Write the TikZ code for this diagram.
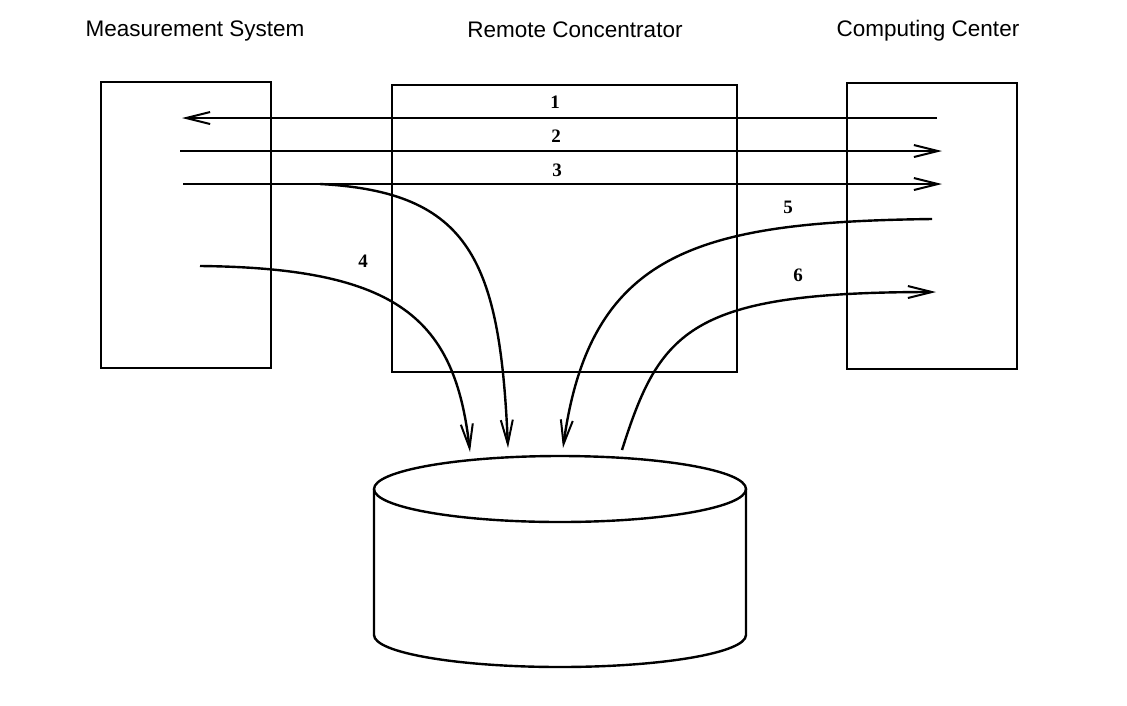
\documentclass[tikz,border=0pt]{standalone}
\usepackage{fontspec}
\setmainfont{Liberation Serif}
\newfontfamily\arialf{Liberation Sans}
\usetikzlibrary{arrows.meta}
\begin{document}
\begin{tikzpicture}[x=1pt,y=-1pt,line width=2.4pt,
  box/.style={draw},
  con/.style={-{Straight Barb[length=24pt,width=12pt,line width=2pt]}},
  num/.style={font=\bfseries\fontsize{19}{19}\selectfont,inner sep=0pt},
  ttl/.style={font=\arialf\fontsize{22.5}{22.5}\selectfont,inner sep=0pt,anchor=base}]
\useasboundingbox (0,0) rectangle (1127,705);
\fill[white] (0,0) rectangle (1127,705);
\draw[box] (101,82) rectangle (271,368);
\draw[box] (392,85) rectangle (737,372);
\draw[box] (847,83) rectangle (1017,369);
\node[ttl] (t1) at (195,36) {Measurement System};
\node[ttl] (t2) at (575,37) {Remote Concentrator};
\node[ttl] (t3) at (928,36) {Computing Center};
% cylinder
\draw (374,489) -- (374,635) arc[start angle=180,end angle=0,x radius=186,y radius=32] -- (746,489);
\draw (560,489) ellipse[x radius=186,y radius=33];
\coordinate (a1s) at (937,118); \coordinate (a1e) at (182,118);
\coordinate (a2s) at (180,151); \coordinate (a2e) at (942,151);
\coordinate (a3s) at (183,184); \coordinate (a3e) at (942,184);
\coordinate (b3) at (320,184); \coordinate (b3e) at (508,448);
\coordinate (a4s) at (200,266); \coordinate (a4e) at (470,452);
\coordinate (a5s) at (932,219); \coordinate (a5e) at (563,448);
\coordinate (a6s) at (622,450); \coordinate (a6e) at (936,292);
\draw[con] (a1s) -- (a1e);
\draw[con] (a2s) -- (a2e);
\draw[con] (a3s) -- (a3e);
\draw[con] (b3) .. controls (470,192) and (500,260) .. (b3e);
\draw[con] (a4s) .. controls (400,268) and (455,320) .. (a4e);
\draw[con] (a5s) .. controls (700,222) and (590,250) .. (a5e);
\draw[con] (a6s) .. controls (660,330) and (690,292) .. (a6e);
\node[num] (n1) at (555,102) {1};
\node[num] (n2) at (556,136) {2};
\node[num] (n3) at (557,170) {3};
\node[num] (n4) at (363,261) {4};
\node[num] (n5) at (788,207) {5};
\node[num] (n6) at (798,275) {6};
\end{tikzpicture}
\end{document}
